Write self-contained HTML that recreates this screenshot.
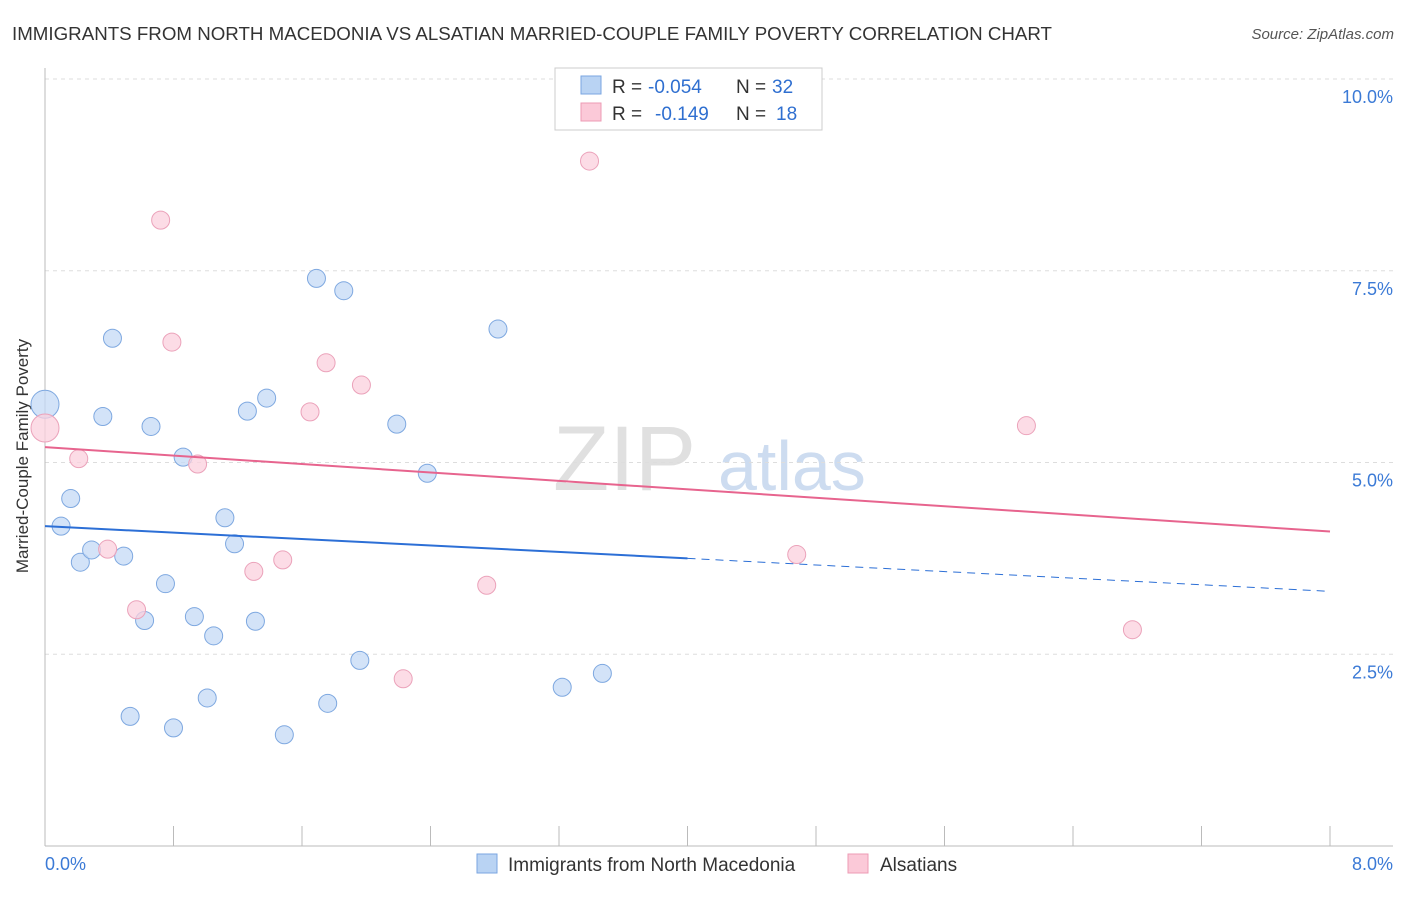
<!DOCTYPE html>
<html><head><meta charset="utf-8"><style>
body{margin:0;background:#fff;font-family:"Liberation Sans",sans-serif;}
svg text{font-family:"Liberation Sans",sans-serif;}
</style></head><body>
<svg id="c" width="1406" height="892">
<text x="12" y="40" font-size="18.5" fill="#333" textLength="1040" lengthAdjust="spacingAndGlyphs">IMMIGRANTS FROM NORTH MACEDONIA VS ALSATIAN MARRIED-COUPLE FAMILY POVERTY CORRELATION CHART</text>
<text x="1394" y="39" font-size="15" fill="#555" font-style="italic" text-anchor="end">Source: ZipAtlas.com</text>
<text x="28" y="456" font-size="17" fill="#333" text-anchor="middle" transform="rotate(-90 28 456)">Married-Couple Family Poverty</text>
<text x="553" y="490" font-size="92" fill="#e0e0e0" font-family="Liberation Serif">ZIP</text>
<text x="718" y="490" font-size="70" fill="#cddcf0">atlas</text>
<g id="grid"></g><g id="pts"></g>
<g>
<rect x="555" y="68" width="267" height="62" fill="#fff" stroke="#ccc"/>
<rect x="581" y="76" width="20" height="18" fill="#b9d3f3" stroke="#7aa6e0"/>
<rect x="581" y="103" width="20" height="18" fill="#fbc9d8" stroke="#ec9bb4"/>
<text x="612" y="93" font-size="19" fill="#333">R =</text>
<text x="648" y="93" font-size="19" fill="#2f6fd0">-0.054</text>
<text x="736" y="93" font-size="19" fill="#333">N =</text>
<text x="772" y="93" font-size="19" fill="#2f6fd0">32</text>
<text x="612" y="120" font-size="19" fill="#333">R =</text>
<text x="655" y="120" font-size="19" fill="#2f6fd0">-0.149</text>
<text x="736" y="120" font-size="19" fill="#333">N =</text>
<text x="776" y="120" font-size="19" fill="#2f6fd0">18</text>
</g>
<g>
<rect x="477" y="854" width="20" height="19" fill="#b9d3f3" stroke="#7aa6e0"/>
<text x="508" y="871" font-size="19" fill="#333">Immigrants from North Macedonia</text>
<rect x="848" y="854" width="20" height="19" fill="#fbc9d8" stroke="#ec9bb4"/>
<text x="880" y="871" font-size="19" fill="#333">Alsatians</text>
</g>
</svg>
<script>
const blueX=[0,0.1,0.16,0.22,0.29,0.36,0.42,0.49,0.53,0.62,0.66,0.75,0.8,0.86,0.93,1.01,1.05,1.12,1.18,1.26,1.31,1.38,1.49,1.69,1.76,1.86,1.96,2.19,2.38,2.82,3.22,3.47];
const blueY=[5.76,4.17,4.53,3.7,3.86,5.6,6.62,3.78,1.69,2.94,5.47,3.42,1.54,5.07,2.99,1.93,2.74,4.28,3.94,5.67,2.93,5.84,1.45,7.4,1.86,7.24,2.42,5.5,4.86,6.74,2.07,2.25];
const pinkX=[0,0.21,0.39,0.57,0.72,0.79,0.95,1.3,1.48,1.65,1.75,1.97,2.23,2.75,3.39,4.68,6.11,6.77];
const pinkY=[5.45,5.05,3.87,3.08,8.16,6.57,4.98,3.58,3.73,5.66,6.3,6.01,2.18,3.4,8.93,3.8,5.48,2.82];
const xTicks=[0,0.8,1.6,2.4,3.2,4,4.8,5.6,6.4,7.2,8];
const yTicks=[2.5,5,7.5,10];
const blueLine=[4.17,3.75,3.32]; // at x=0, 4, 8
const pinkLine=[5.2,4.1];        // at x=0, 8
const sx=v=>45+v/8*1285, sy=v=>846-v/10*767;
const NS="http://www.w3.org/2000/svg";
function mk(t,a,p){const e=document.createElementNS(NS,t);for(const k in a)e.setAttribute(k,a[k]);p.appendChild(e);return e;}
const g=document.getElementById('grid'), P=document.getElementById('pts');
yTicks.forEach(v=>{const l=mk('line',{x1:45,x2:1393,y1:sy(v),y2:sy(v),stroke:'#ddd','stroke-dasharray':'4,4'},g);


const t=mk('text',{x:1393,y:sy(v)+24,'font-size':18,fill:'#3b7ad6','text-anchor':'end'},g);t.textContent=v.toFixed(1)+'%';

});
const ax=mk('line',{x1:45,x2:1393,y1:846,y2:846,stroke:'#bbb'},g);


const ay=mk('line',{x1:45,x2:45,y1:68,y2:846,stroke:'#bbb'},g);


xTicks.forEach(v=>{const l=mk('line',{x1:sx(v),x2:sx(v),y1:826,y2:846,stroke:'#bbb'},g);

});
[[0,'0.0%','start',45],[8,'8.0%','end',1393]].forEach(([v,s,a,x])=>{const t=mk('text',{x:x,y:870,'font-size':18,fill:'#3b7ad6','text-anchor':a},g);t.textContent=s;

});
function dot(x,y,f,s,big,name){const c=mk('circle',{cx:sx(x),cy:sy(y),r:big?14:9,fill:f,stroke:s,'stroke-width':1,'fill-opacity':0.75},P);

}
blueX.forEach((x,i)=>dot(x,blueY[i],'#c4daf5','#7ea8e0',i==0,'point-macedonia'));
pinkX.forEach((x,i)=>dot(x,pinkY[i],'#fbd0dd','#eba2ba',i==0,'point-alsatians'));
const b1=mk('line',{x1:sx(0),y1:sy(blueLine[0]),x2:sx(4),y2:sy(blueLine[1]),stroke:'#2c6fd6','stroke-width':2},P);


const b2=mk('line',{x1:sx(4),y1:sy(blueLine[1]),x2:sx(8),y2:sy(blueLine[2]),stroke:'#2c6fd6','stroke-width':1,'stroke-dasharray':'8,6'},P);


const p1=mk('line',{x1:sx(0),y1:sy(pinkLine[0]),x2:sx(8),y2:sy(pinkLine[1]),stroke:'#e7648e','stroke-width':2},P);


</script>
</body></html>
